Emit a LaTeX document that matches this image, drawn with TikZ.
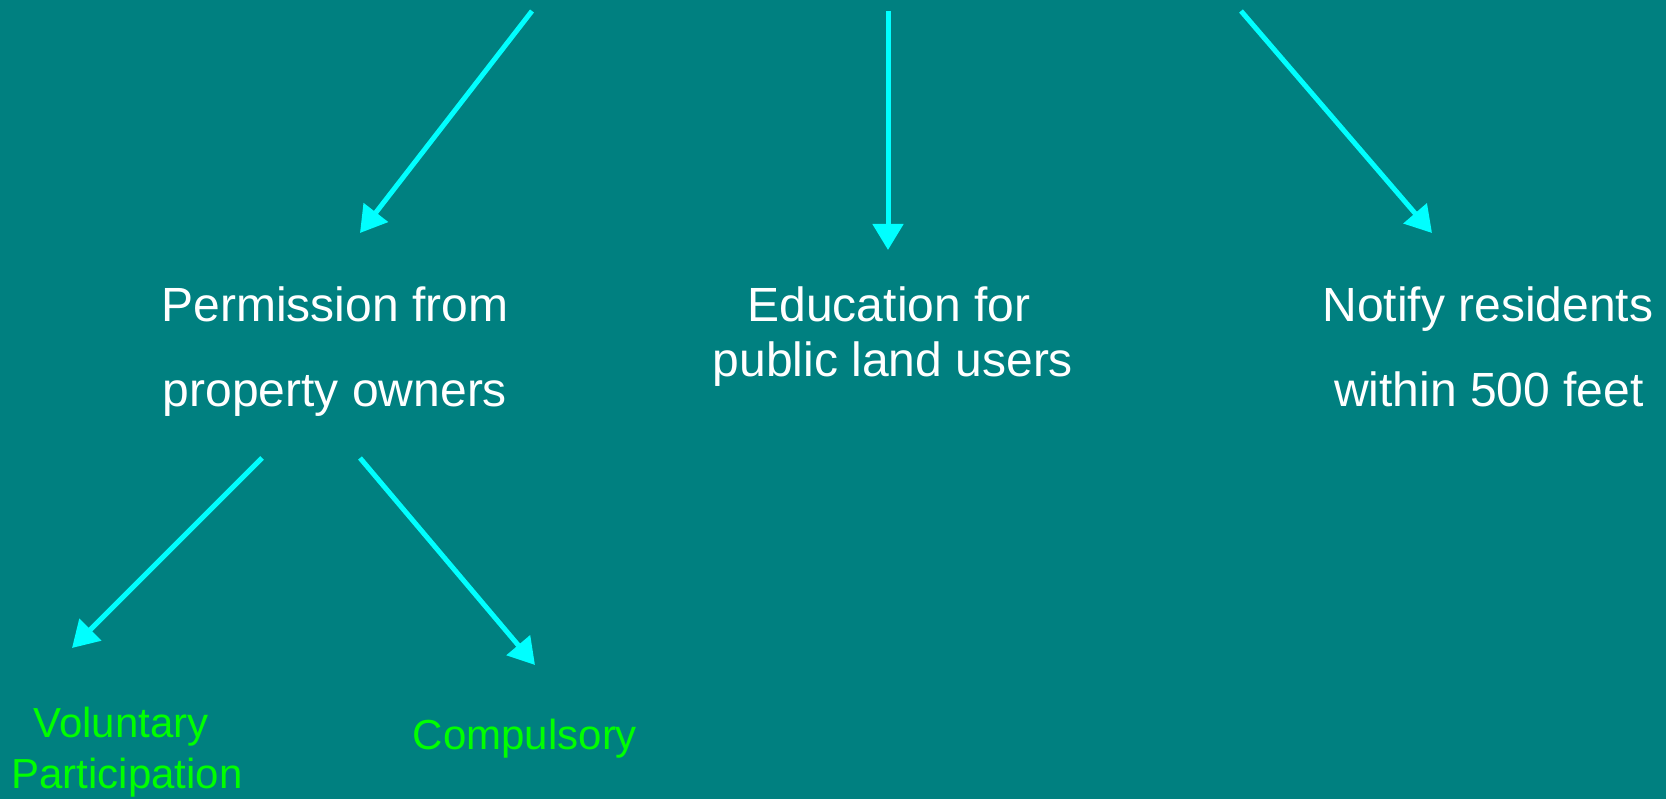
\documentclass[tikz,border=0pt]{standalone}
\usepackage{fontspec}
\setmainfont{Liberation Sans}
\usetikzlibrary{arrows.meta}
\definecolor{bg}{HTML}{008080}
\definecolor{arr}{HTML}{00FFFF}
\definecolor{grn}{HTML}{00FF00}
\begin{document}
\begin{tikzpicture}[x=1pt,y=-1pt,
  conn/.style={draw=arr, line width=5pt, -{Triangle[length=26pt,width=30pt]}},
  lbl/.style={text=white, font=\fontsize{48}{58}\selectfont, inner sep=0pt, anchor=base},
  sub/.style={text=grn, font=\fontsize{42}{50}\selectfont, inner sep=0pt, anchor=base}]
\fill[bg] (0,0) rectangle (1666,799);
\useasboundingbox (0,0) rectangle (1666,799);
% free ends and tips
\coordinate (s1) at (532,11);
\coordinate (s2) at (888,11);
\coordinate (s3) at (1241,11);
\coordinate (t1) at (360,233);
\coordinate (t2) at (888,250);
\coordinate (t3) at (1432,233);
\coordinate (s4) at (262,458);
\coordinate (s5) at (360,458);
\coordinate (t4) at (72,648);
\coordinate (t5) at (535,665);
% labels
\node[lbl] (perm1) at (335,322) {Permission from};
\node[lbl] (perm2) at (335,407) {property owners};
\node[lbl] (edu1) at (889,322) {Education for};
\node[lbl] (edu2) at (893,377) {public land users};
\node[lbl] (not1) at (1488,322) {Notify residents};
\node[lbl] (not2) at (1489,407) {within 500 feet};
\node[sub] (vol1) at (121,737) {Voluntary};
\node[sub] (vol2) at (127,788) {Participation};
\node[sub] (comp) at (525,749) {Compulsory};
% connectors
\draw[conn] (s1) -- (t1);
\draw[conn] (s2) -- (t2);
\draw[conn] (s3) -- (t3);
\draw[conn] (s4) -- (t4);
\draw[conn] (s5) -- (t5);
\end{tikzpicture}
\end{document}
